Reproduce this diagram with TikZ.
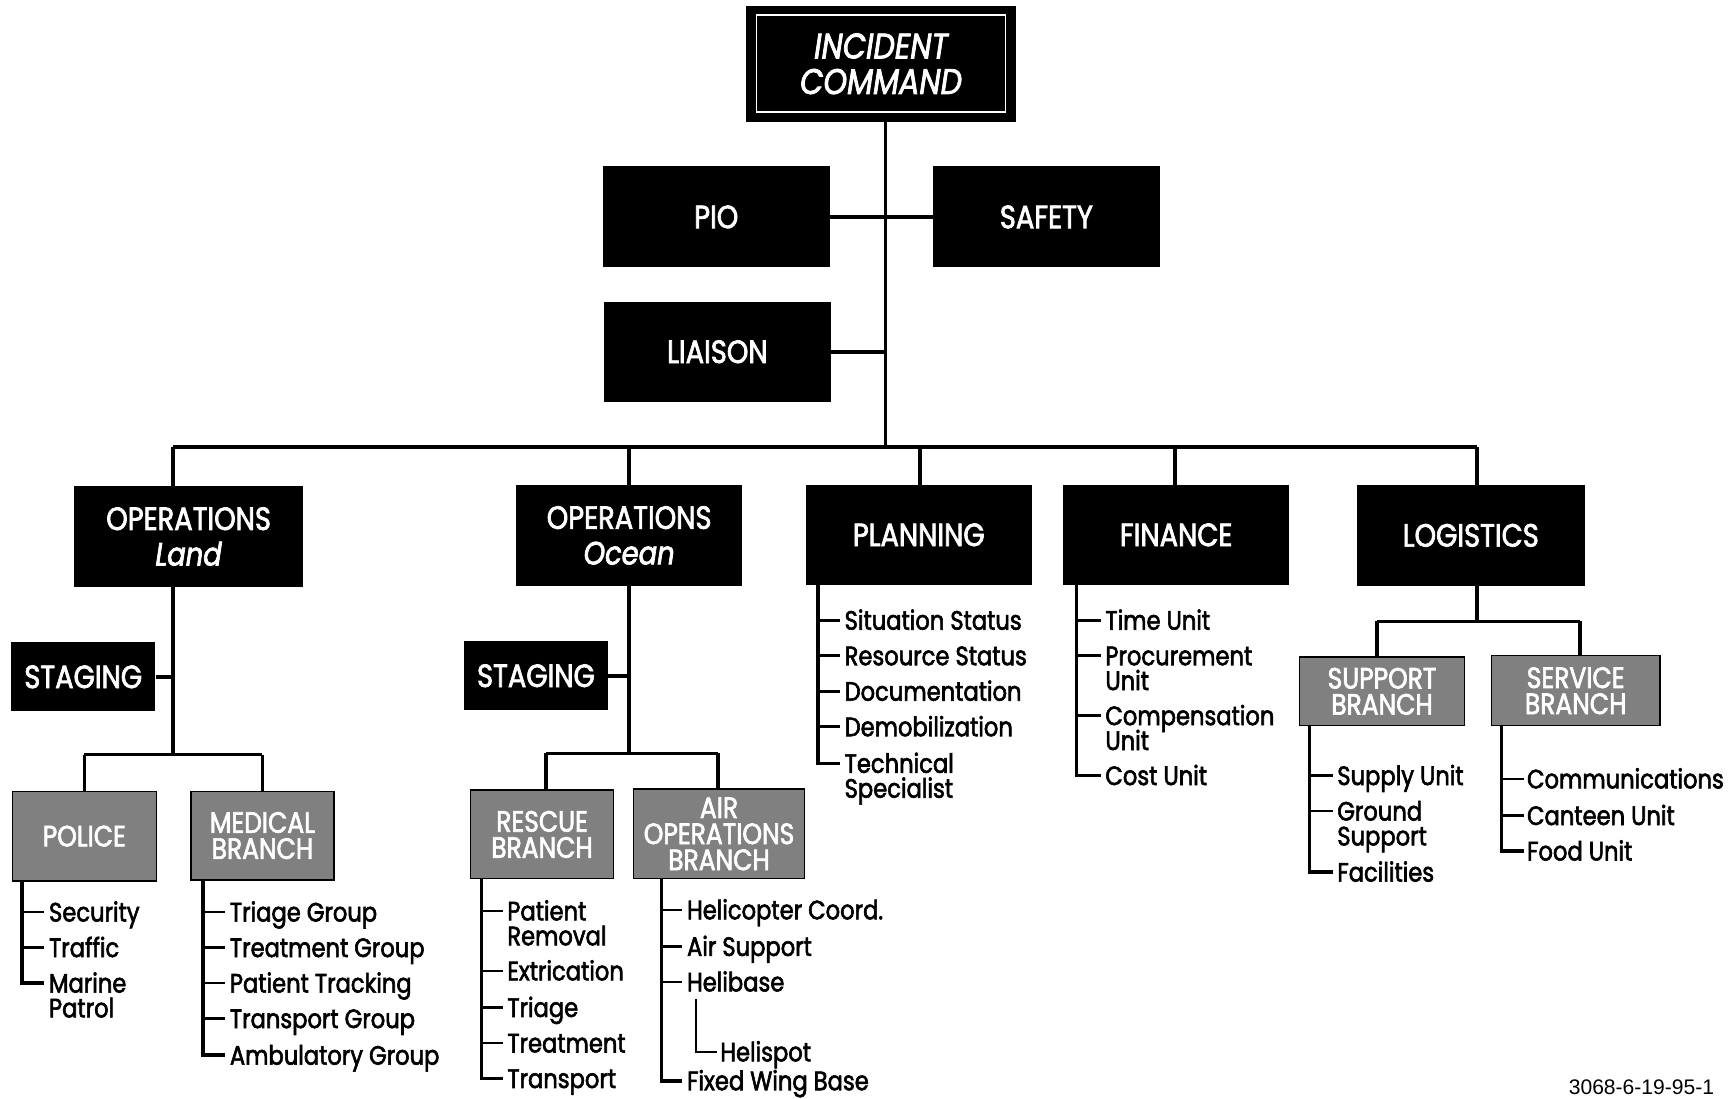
\documentclass[tikz,border=0pt]{standalone}
\usepackage{fontspec}
\setmainfont{Poppins}[FakeStretch=0.85, FakeBold=2.2]
\newfontfamily\fnfont{Liberation Sans}
\usetikzlibrary{calc}
\tikzset{
  conn/.style={line width=3.2pt},
  tick/.style={line width=2.4pt},
  thin/.style={line width=1.4pt},
  blackbox/.style={fill=black, text=white, inner sep=0pt, align=center,
    font=\fontsize{29}{32}\selectfont},
  graybox/.style={fill=black!50, draw=black, line width=1.2pt, text=white, inner sep=0pt,
    align=center, font=\fontsize{26.5}{23.5}\selectfont},
  item/.style={inner sep=0pt, anchor=west, text height=19.5pt, text depth=2.5pt,
    font=\fontsize{24}{26}\selectfont},
  item2/.style={item, anchor=north west},
}
\begin{document}
\begin{tikzpicture}[x=1pt,y=-1pt]
\useasboundingbox (0,0) rectangle (1560,990.4);
% top level
\node[blackbox, minimum width=244pt, minimum height=105pt, font=\fontsize{32}{32}\selectfont\itshape] (ic) at (794,57.5)
  {INCIDENT\\COMMAND};
\draw[white, line width=1.5pt] ($(ic.north west)+(10,9)$) rectangle ($(ic.south east)+(-10,-9)$);
\node[blackbox, minimum width=205pt, minimum height=91pt] (pio) at (645.5,195.5) {PIO};
\node[blackbox, minimum width=204pt, minimum height=91pt] (safety) at (943,195.5) {SAFETY};
\node[blackbox, minimum width=205pt, minimum height=90pt] (liaison) at (646.5,317) {LIAISON};
% sections
\node[blackbox, minimum width=206pt, minimum height=91pt] (opsland) at (170,483.5) {OPERATIONS\\\itshape Land};
\node[blackbox, minimum width=204pt, minimum height=91pt] (opsocean) at (567,482.5) {OPERATIONS\\\itshape Ocean};
\node[blackbox, minimum width=204pt, minimum height=90pt] (planning) at (828,482) {PLANNING};
\node[blackbox, minimum width=204pt, minimum height=90pt] (finance) at (1060,482) {FINANCE};
\node[blackbox, minimum width=205pt, minimum height=91pt] (logistics) at (1325.5,482.5) {LOGISTICS};
\node[blackbox, minimum width=130pt, minimum height=62pt] (stag1) at (75,610) {STAGING};
\node[blackbox, minimum width=130pt, minimum height=62pt] (stag2) at (483,609) {STAGING};
% branches
\node[graybox, minimum width=130pt, minimum height=81pt] (police) at (76,753.5) {POLICE};
\node[graybox, minimum width=129pt, minimum height=80pt] (medical) at (236.5,753) {MEDICAL\\BRANCH};
\node[graybox, minimum width=129pt, minimum height=80pt] (rescue) at (488.5,752) {RESCUE\\BRANCH};
\node[graybox, minimum width=154pt, minimum height=81pt] (airops) at (648,751.5) {AIR\\OPERATIONS\\BRANCH};
\node[graybox, minimum width=149pt, minimum height=62pt] (support) at (1245.5,623) {SUPPORT\\BRANCH};
\node[graybox, minimum width=152pt, minimum height=63pt] (service) at (1420,622.5) {SERVICE\\BRANCH};
% top connectors
\coordinate (tr) at (798,0);
\coordinate (busL) at (156,403);
\coordinate (busR) at (1331,403);
\draw[conn] (ic.south -| tr) -- (busL -| tr);
\draw[conn] (pio.east) -- (safety.west);
\draw[conn] (liaison.east) -- (liaison.east -| tr);
\draw[conn] (busL) -- (busR);
\draw[conn] (busL) -- (busL |- opsland.north);
\draw[conn] (opsocean.north |- busL) -- (opsocean.north);
\coordinate (pd) at (829,0);
\coordinate (fd) at (1059,0);
\draw[conn] (busL -| pd) -- (planning.north -| pd);
\draw[conn] (busL -| fd) -- (finance.north -| fd);
\draw[conn] (busR) -- (logistics.north -| busR);
% Operations Land
\coordinate (lj) at (156,680);
\draw[conn] (opsland.south -| lj) -- (lj);
\draw[conn] (stag1.east) -- (stag1.east -| lj);
\draw[conn] (police.north |- lj) -- (medical.north |- lj);
\draw[conn] (police.north |- lj) -- (police.north);
\draw[conn] (medical.north |- lj) -- (medical.north);
% Operations Ocean
\coordinate (oj) at (567,679);
\coordinate (rx) at (492,0);
\coordinate (ax) at (647,0);
\draw[conn] (opsocean.south) -- (oj);
\draw[conn] (stag2.east) -- (stag2.east -| oj);
\draw[conn] (oj -| rx) -- (oj -| ax);
\draw[conn] (oj -| rx) -- (rescue.north -| rx);
\draw[conn] (oj -| ax) -- (airops.north -| ax);
% Logistics
\coordinate (gj) at (1331,560);
\coordinate (sx) at (1241,0);
\coordinate (vx) at (1424,0);
\draw[conn] (logistics.south -| gj) -- (gj);
\draw[conn] (gj -| sx) -- (gj -| vx);
\draw[conn] (gj -| sx) -- (support.north -| sx);
\draw[conn] (gj -| vx) -- (service.north -| vx);
% Police list
\node[item] (sec) at (44,822) {Security};
\node[item] (tra) at (44,854) {Traffic};
\node[item] (mar) at (44,886) {Marine};
\node[item2] (pat) at (mar.south west) {Patrol};
\coordinate (pl) at (20,0);
\draw[conn] (police.south -| pl) -- (mar.west -| pl) -- ($(mar.west)+(-4,0)$);
\foreach \n in {sec,tra} \draw[tick] (\n.west -| pl) -- ($(\n.west)+(-4,0)$);
% Medical list
\node[item] (m1) at (207,822) {Triage Group};
\node[item] (m2) at (207,854) {Treatment Group};
\node[item] (m3) at (207,886) {Patient Tracking};
\node[item] (m4) at (207,918) {Transport Group};
\node[item] (m5) at (207,951) {Ambulatory Group};
\coordinate (ml) at (183,0);
\draw[conn] (medical.south -| ml) -- (m5.west -| ml) -- ($(m5.west)+(-4,0)$);
\foreach \n in {m1,m2,m3,m4} \draw[tick] (\n.west -| ml) -- ($(\n.west)+(-4,0)$);
% Rescue list
\node[item] (r1) at (457,821) {Patient};
\node[item2] (r1b) at (r1.south west) {Removal};
\node[item] (r2) at (457,875) {Extrication};
\node[item] (r3) at (457,908) {Triage};
\node[item] (r4) at (457,940) {Treatment};
\node[item] (r5) at (457,972) {Transport};
\coordinate (rl) at (434,0);
\draw[conn] (rescue.south -| rl) -- (r5.west -| rl) -- ($(r5.west)+(-4,0)$);
\foreach \n in {r1,r2,r3,r4} \draw[tick] (\n.west -| rl) -- ($(\n.west)+(-4,0)$);
% Air operations list
\node[item] (a1) at (619,820) {Helicopter Coord.};
\node[item] (a2) at (619,853) {Air Support};
\node[item] (a3) at (619,885) {Helibase};
\node[item] (a4) at (649,948) {Helispot};
\node[item] (a5) at (619,974) {Fixed Wing Base};
\coordinate (al) at (596,0);
\coordinate (hl) at (627,0);
\draw[conn] (airops.south -| al) -- (a5.west -| al) -- ($(a5.west)+(-4,0)$);
\foreach \n in {a1,a2,a3} \draw[tick] (\n.west -| al) -- ($(\n.west)+(-4,0)$);
\draw[thin] ($(a3.south -| hl)+(0,4)$) -- (a4.west -| hl) -- ($(a4.west)+(-3,0)$);
% Planning list
\node[item] (p1) at (761,559) {Situation Status};
\node[item] (p2) at (761,591) {Resource Status};
\node[item] (p3) at (761,623) {Documentation};
\node[item] (p4) at (761,655) {Demobilization};
\node[item] (p5) at (761,688) {Technical};
\node[item2] (p5b) at (p5.south west) {Specialist};
\coordinate (plx) at (737,0);
\draw[conn] (planning.south -| plx) -- (p5.west -| plx) -- ($(p5.west)+(-4,0)$);
\foreach \n in {p1,p2,p3,p4} \draw[tick] (\n.west -| plx) -- ($(\n.west)+(-4,0)$);
% Finance list
\node[item] (f1) at (996,559) {Time Unit};
\node[item] (f2) at (996,591) {Procurement};
\node[item2] (f2b) at (f2.south west) {Unit};
\node[item] (f3) at (996,645) {Compensation};
\node[item2] (f3b) at (f3.south west) {Unit};
\node[item] (f4) at (996,699) {Cost Unit};
\coordinate (flx) at (970,0);
\draw[conn] (finance.south -| flx) -- (f4.west -| flx) -- ($(f4.west)+(-4,0)$);
\foreach \n in {f1,f2,f3} \draw[tick] (\n.west -| flx) -- ($(\n.west)+(-4,0)$);
% Support list
\node[item] (s1) at (1205,699) {Supply Unit};
\node[item] (s2) at (1205,731) {Ground};
\node[item2] (s2b) at (s2.south west) {Support};
\node[item] (s3) at (1205,786) {Facilities};
\coordinate (slx) at (1180,0);
\draw[conn] (support.south -| slx) -- (s3.west -| slx) -- ($(s3.west)+(-4,0)$);
\foreach \n in {s1,s2} \draw[tick] (\n.west -| slx) -- ($(\n.west)+(-4,0)$);
% Service list
\node[item] (v1) at (1376,702) {Communications};
\node[item] (v2) at (1376,735) {Canteen Unit};
\node[item] (v3) at (1376,767) {Food Unit};
\coordinate (vlx) at (1353,0);
\draw[conn] (service.south -| vlx) -- (v3.west -| vlx) -- ($(v3.west)+(-3,0)$);
\foreach \n in {v1,v2} \draw[tick] (\n.west -| vlx) -- ($(\n.west)+(-3,0)$);
% footnote
\node[anchor=east, inner sep=0pt, font=\fnfont\fontsize{19}{20}\selectfont] (fn) at (1545,980) {3068-6-19-95-1};
\end{tikzpicture}
\end{document}
